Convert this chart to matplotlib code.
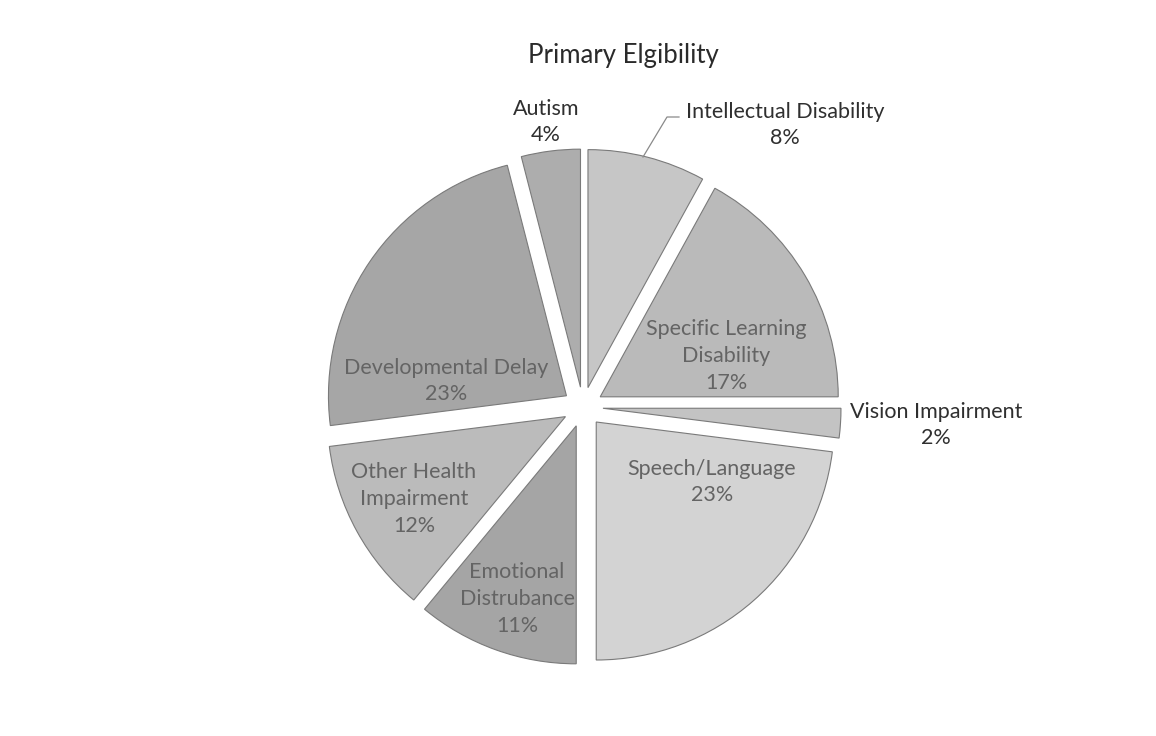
import matplotlib.pyplot as plt

# Dados do gráfico (sentido horário a partir do topo)
categories = ["Intellectual Disability", "Specific Learning\nDisability", "Vision Impairment",
              "Speech/Language", "Emotional\nDistrubance", "Other Health\nImpairment",
              "Developmental Delay", "Autism"]
percents = [8, 17, 2, 23, 11, 12, 23, 4]
colors = ["#c6c6c6", "#bababa", "#c3c3c3", "#d3d3d3", "#a5a5a5", "#bbbbbb", "#a6a6a6", "#adadad"]

# posições dos rótulos (pixels, origem no canto superior esquerdo)
label_pos = [(785, 125), (726, 356), (936, 425), (712, 482), (517, 599), (414, 499), (446, 381), (546, 122)]
inside = [False, True, False, True, True, True, True, False]

W, H = 1156, 736
fig = plt.figure(figsize=(W / 100, H / 100), dpi=100)
ax = fig.add_axes([0, 0, 1, 1])

cx, cy, r = 583, H - 407, 238
# explode em unidades de dados (pixels)
ax.pie(percents, colors=colors, startangle=90, counterclock=False,
       center=(cx, cy), radius=r, explode=[20] * len(percents),
       wedgeprops=dict(edgecolor="#7a7a7a", linewidth=0.8), frame=True)
ax.set_xlim(0, W)
ax.set_ylim(0, H)
ax.axis("off")

for cat, p, (x, y), ins in zip(categories, percents, label_pos, inside):
    ax.text(x, H - y, f"{cat}\n{p}%", ha="center", va="center", fontsize=15.5,
            family="Lato", color="#646464" if ins else "#2f2f2f", linespacing=1.42)

# linha guia do rótulo Intellectual Disability
ax.plot([643, 667, 679], [H - 157, H - 117, H - 117], color="#8a8a8a", linewidth=0.9)

ax.text(623, H - 56, "Primary Elgibility", ha="center", va="center",
        fontsize=18.5, family="Lato", color="#2a2a2a")

fig.savefig("out.png", dpi=100)
